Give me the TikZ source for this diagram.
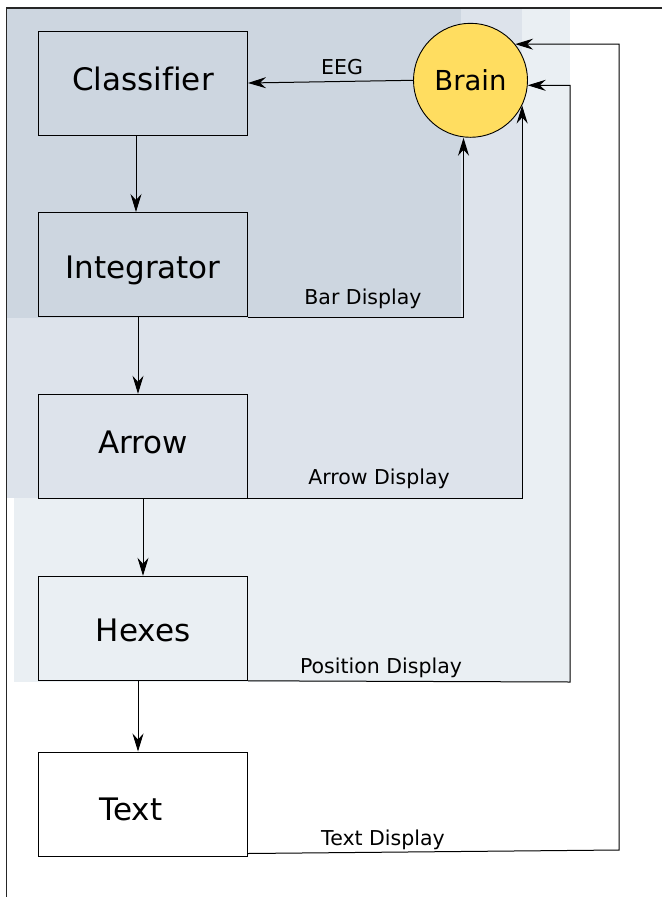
\documentclass[tikz,border=0pt]{standalone}
\usepackage{fontspec}
\setmainfont{DejaVu Sans}[Ligatures=NoCommon]
\usetikzlibrary{arrows.meta}

\definecolor{loopbar}{RGB}{205,214,224}
\definecolor{looparrow}{RGB}{221,227,235}
\definecolor{looppos}{RGB}{234,239,243}
\definecolor{brainyellow}{RGB}{255,221,96}

\begin{document}
\begin{tikzpicture}[x=1pt,y=-1pt,
    block/.style={draw=black, line width=1pt, minimum width=209pt, minimum height=104pt,
        text height=20pt, text depth=6pt, font=\fontsize{31}{36}\selectfont},
    feed/.style={draw=black, line width=1pt, -{Stealth[length=18pt,width=11pt,inset=6pt]}},
    lbl/.style={anchor=base, font=\fontsize{20.5}{24}\selectfont}]
    \useasboundingbox (0,0) rectangle (662,897);
    % shaded feedback loops, largest first
    \fill[looppos] (14,8) rectangle (570,682);
    \fill[looparrow] (6,8) rectangle (522,498);
    \fill[loopbar] (6,8) rectangle (461,318);
    % frame along top and left
    \draw[black!85, line width=1.2pt] (662,8) -- (6.5,8) -- (6.5,897);

    % processing chain
    \node[block] (cls) at (143,83) {Classif\kern0pt ier};
    \node[block, text height=34pt] (integ) at (143,264.5) {Integrator};
    \node[block] (arrow) at (143,446.3) {Arrow};
    \node[block, text height=32pt] (hexes) at (143,628.3) {Hexes};
    \node[block, fill=white, text height=38pt] (text) at (143,804) {Text\kern24pt};
    \node[circle, draw=black, line width=0.9pt, fill=brainyellow, minimum size=114pt, inner sep=0pt,
        font=\fontsize{27.5}{32}\selectfont] (brain) at (470.5,80.3) {Brain};

    % bends of the two outer loops
    \coordinate (posbend) at (570,682);
    \coordinate (txtbend) at (619,850);

    \draw[feed] (brain.west) -- (cls.east);
    \draw[feed] ([xshift=-7pt]cls.south) -- ([xshift=-7pt]integ.north);
    \draw[feed] ([xshift=-5pt]integ.south) -- ([xshift=-5pt]arrow.north);
    \draw[feed] (arrow.south) -- (hexes.north);
    \draw[feed] ([xshift=-5pt]hexes.south) -- ([xshift=-5pt]text.north);

    % displays back to the brain
    \draw[feed] (integ.south east) -| ([xshift=-7pt]brain.south);
    \draw[feed] (arrow.south east) -| (brain.-26);
    \draw[feed] (hexes.south east) -- (posbend) |- (brain.-5);
    \draw[feed] ([yshift=3pt]text.south east) -- (txtbend) |- (brain.39);

    \node[lbl] (eeg) at (342,74) {EEG};
    \node[lbl] (bar) at (363,304) {Bar Display};
    \node[lbl] (arrdisp) at (379,484) {Arrow Display};
    \node[lbl] (posdisp) at (381,673) {Position Display};
    \node[lbl] (txtdisp) at (383,845) {Text Display};
\end{tikzpicture}
\end{document}
